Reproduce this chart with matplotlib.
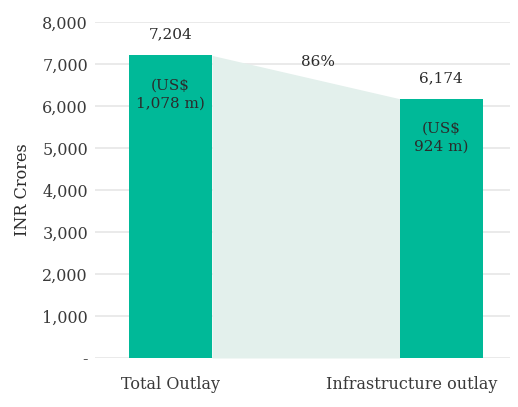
import numpy as np
import matplotlib.pyplot as plt
import matplotlib.transforms as mtransforms

# Outlay data (INR crores)
categories = ["Total Outlay", "Infrastructure outlay"]
values = [7204, 6174]
usd_labels = ["(US$\n1,078 m)", "(US$\n924 m)"]
share_label = "86%"
yticks = [0, 1000, 2000, 3000, 4000, 5000, 6000, 7000, 8000]
ytick_labels = ["-", "1,000", "2,000", "3,000", "4,000", "5,000", "6,000", "7,000", "8,000"]

bar_color = "#00b998"
shade_color = "#e3f0ec"
text_color = "#2b2b2b"

plt.rcParams["font.family"] = ["DejaVu Serif"]

fig = plt.figure(figsize=(5.18, 4.07), dpi=100)
ax = fig.add_axes([0.1834, 0.1204, 0.8012, 0.8256])

x = np.arange(len(categories))
width = 0.307

# shaded connector between the two bars
ax.fill_between([x[0] + width / 2, x[1] - width / 2], [values[0], values[1]], 0,
                color=shade_color, linewidth=0, zorder=1)
ax.bar(x, values, width=width, color=bar_color, zorder=2)

for xi, v, usd in zip(x, values, usd_labels):
    ax.annotate(f"{v:,}", (xi, v), xytext=(0, 15), textcoords="offset points",
                ha="center", va="center", fontsize=11, color=text_color)
    ax.annotate(usd, (xi, v), xytext=(0, -28), textcoords="offset points",
                ha="center", va="center", fontsize=11, color=text_color,
                linespacing=1.35)

ax.text(0.545, 7050, share_label, ha="center", va="center", fontsize=11,
        color=text_color)

ax.set_xlim(-0.279, 1.255)
ax.set_ylim(0, 8000)
ax.set_yticks(yticks)
ax.set_yticklabels(ytick_labels)
ax.set_xticks(x)
ax.set_xticklabels(categories)
ax.tick_params(length=0, labelsize=11.5, colors="#3a3a3a")
ax.tick_params(axis="y", pad=5)
ax.tick_params(axis="x", pad=13)

# the long second label is pulled left so it stays inside the figure
lbl = ax.get_xticklabels()[1]
lbl.set_transform(lbl.get_transform() +
                  mtransforms.ScaledTranslation(-0.29, 0, fig.dpi_scale_trans))

ax.grid(axis="y", color="#e6e6e6", linewidth=1.2, zorder=0)
ax.set_axisbelow(True)
for s in ax.spines.values():
    s.set_visible(False)
ax.set_ylabel("INR Crores", fontsize=11.5, color=text_color, labelpad=8)

fig.savefig("out.png", dpi=100)
